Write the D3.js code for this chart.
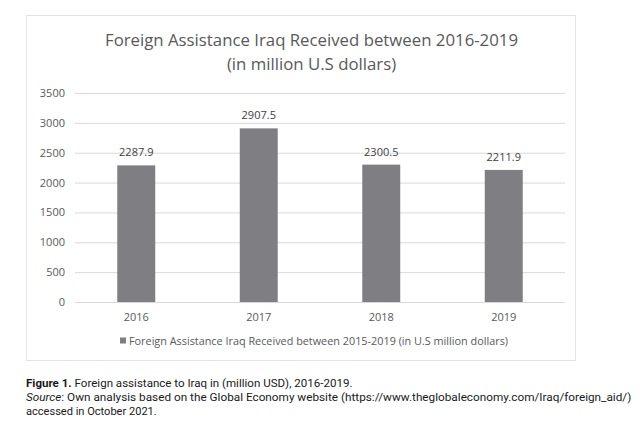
<!DOCTYPE html>
<html>
<head>
<meta charset="utf-8">
<script src="https://cdn.jsdelivr.net/npm/d3@7"></script>
<style>
  body { margin: 0; background: #fff; }
  svg { display: block; }
</style>
</head>
<body>
<div id="chart"></div>
<script>
// values
var years = ["2016", "2017", "2018", "2019"];
var aid = [2287.9, 2907.5, 2300.5, 2211.9];
var yTicks = [0, 500, 1000, 1500, 2000, 2500, 3000, 3500];
var titleLines = ["Foreign Assistance Iraq Received between 2016-2019", "(in million U.S dollars)"];
var legendLabel = "Foreign Assistance Iraq Received between 2015-2019 (in U.S million dollars)";

var W = 640, H = 435;
var m = {left: 75, right: 75, top: 93, bottom: 133};
var chartFont = "'Open Sans', 'Noto Sans', sans-serif";
var grey = "#595959";

var svg = d3.select("#chart").append("svg")
    .attr("width", W).attr("height", H);

// frame of the chart area
svg.append("rect")
    .attr("x", 26.5).attr("y", 15.5)
    .attr("width", 549).attr("height", 345)
    .attr("fill", "#fff").attr("stroke", "#e3e3e3");

var x = d3.scaleBand().domain(years).range([m.left, W - m.right])
    .paddingInner(0.69).paddingOuter(0.345);
var y = d3.scaleLinear().domain([0, 3500]).range([H - m.bottom, m.top]);

// title
svg.selectAll("text.title").data(titleLines).enter().append("text")
    .attr("class", "title")
    .attr("x", 311.5)
    .attr("y", function (d, i) { return 46 + i * 23.5; })
    .attr("text-anchor", "middle")
    .attr("font-family", chartFont)
    .attr("font-size", 16.8)
    .attr("fill", grey)
    .text(function (d) { return d; });

// gridlines + y labels
var yAxis = d3.axisLeft(y).tickValues(yTicks)
    .tickSize(-(W - m.left - m.right)).tickPadding(10)
    .tickFormat(d3.format("d"));
var gy = svg.append("g").attr("transform", "translate(" + m.left + ",0)").call(yAxis);
gy.select(".domain").remove();
gy.selectAll(".tick line").attr("stroke", "#d9d9d9");
gy.selectAll(".tick text").attr("fill", grey)
    .attr("font-family", chartFont).attr("font-size", 11);

// bars
svg.selectAll("rect.bar").data(aid).enter().append("rect")
    .attr("class", "bar")
    .attr("x", function (d, i) { return x(years[i]); })
    .attr("y", function (d) { return y(d); })
    .attr("width", x.bandwidth())
    .attr("height", function (d) { return y(0) - y(d); })
    .attr("fill", "#7f7e82");

// value labels
svg.selectAll("text.val").data(aid).enter().append("text")
    .attr("class", "val")
    .attr("x", function (d, i) { return x(years[i]) + x.bandwidth() / 2; })
    .attr("y", function (d) { return y(d) - 9; })
    .attr("text-anchor", "middle")
    .attr("font-family", chartFont).attr("font-size", 11)
    .attr("fill", "#404040")
    .text(function (d) { return d3.format(".1f")(d); });

// x axis labels
var xAxis = d3.axisBottom(x).tickSize(0).tickPadding(11);
var gx = svg.append("g").attr("transform", "translate(0," + y(0) + ")").call(xAxis);
gx.select(".domain").remove();
gx.selectAll(".tick text").attr("fill", grey)
    .attr("font-family", chartFont).attr("font-size", 11);

// legend
var leg = svg.append("g").attr("transform", "translate(120,341)");
leg.append("rect").attr("x", 0).attr("y", -3.5).attr("width", 6).attr("height", 6).attr("fill", "#7f7e82");
leg.append("text").attr("x", 9).attr("y", 4)
    .attr("font-family", chartFont).attr("font-size", 11)
    .attr("fill", grey)
    .attr("textLength", 379).attr("lengthAdjust", "spacingAndGlyphs")
    .text(legendLabel);

// caption below the chart, squeezed sideways to the width it has in the figure
var capFont = "'Roboto', 'Liberation Sans', sans-serif";
function caption(yPos, width, parts) {
    var g = svg.append("g");
    var t = g.append("text").attr("x", 0).attr("y", 0)
        .attr("font-family", capFont).attr("font-size", 11.5).attr("fill", "#1a1a1a");
    parts.forEach(function (p) {
        t.append("tspan").attr("font-weight", p.bold ? "bold" : null)
            .attr("font-style", p.italic ? "italic" : null).text(p.text);
    });
    var k = width / t.node().getComputedTextLength();
    g.attr("transform", "translate(26," + yPos + ") scale(" + k + ",1)");
}
caption(387, 327, [{text: "Figure 1. ", bold: true}, {text: "Foreign assistance to Iraq in (million USD), 2016-2019."}]);
caption(401, 606, [{text: "Source", italic: true}, {text: ": Own analysis based on the Global Economy website (https://www.theglobaleconomy.com/Iraq/foreign_aid/)"}]);
caption(415, 131, [{text: "accessed in October 2021."}]);
</script>
</body>
</html>
